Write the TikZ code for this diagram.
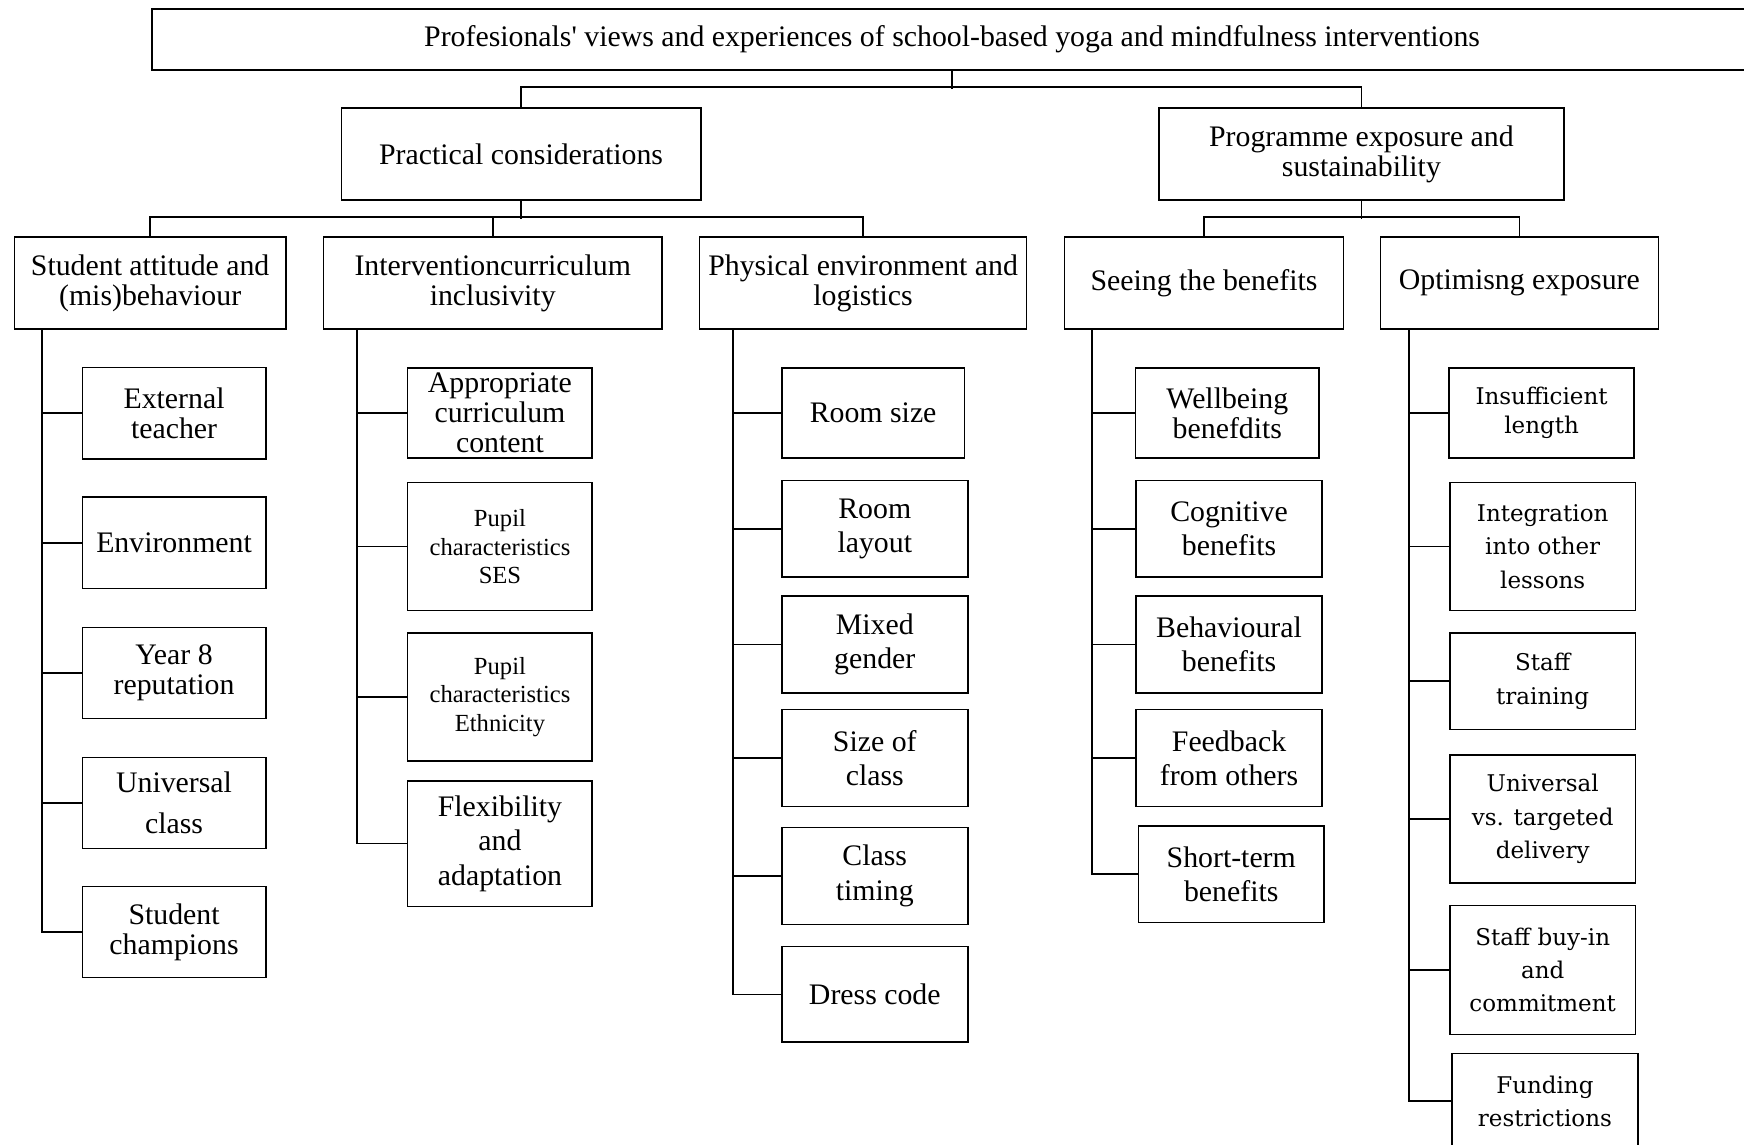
\documentclass[tikz,border=0pt]{standalone}
\usepackage{fontspec}
\setmainfont{Liberation Serif}
\newfontfamily\schoolfont{DejaVu Serif}
\tikzstyle{theme}=[draw, align=center, inner sep=1pt, font=\fontsize{14.9}{15}\selectfont]
\tikzstyle{code}=[theme, minimum width=92.9pt, minimum height=48.4pt]
\tikzstyle{loose}=[font=\fontsize{14.9}{17.2}\selectfont]
\tikzstyle{pupil}=[font=\fontsize{12.3}{14.2}\selectfont]
\tikzstyle{school}=[font=\schoolfont\fontsize{11.5}{16.7}\selectfont]

\begin{document}
\begin{tikzpicture}[x=0.556pt, y=-0.556pt, line width=0.8pt]
\clip (0,0) rectangle (1568,1029);
\node[theme, minimum width=800pt, minimum height=30.6pt] at (856, 35.5) (title) {Profesionals\textquotesingle{} views and experiences of school-based yoga and mindfulness interventions};
\node[theme, minimum width=179.6pt, minimum height=46.1pt] at (468.5, 138.5) (prac) {Practical considerations};
\node[theme, minimum width=202.4pt, minimum height=46.1pt] at (1224, 138.5) (prog) {Programme exposure and\\sustainability};
\node[theme, minimum width=135.7pt, minimum height=46.1pt] at (135, 254.5) (stud) {Student attitude and\\(mis)behaviour};
\node[theme, minimum width=169pt, minimum height=46.1pt] at (443, 254.5) (inter) {Interventioncurriculum\\inclusivity};
\node[theme, minimum width=163.5pt, minimum height=46.1pt] at (776, 254.5) (phys) {Physical environment and\\logistics};
\node[theme, minimum width=139.6pt, minimum height=46.1pt] at (1082.5, 254.5) (seeing) {Seeing the benefits};
\node[theme, minimum width=139pt, minimum height=46.1pt] at (1366, 254.5) (optim) {Optimisng exposure};

\node[code, minimum width=91.7pt, minimum height=45.6pt] at (156.5, 371.5) (ext) {External\\teacher};
\node[code, minimum width=91.7pt, minimum height=45.6pt] at (156.5, 488) (env) {Environment};
\node[code, minimum width=91.7pt, minimum height=45.6pt] at (156.5, 605) (year) {Year 8\\reputation};
\node[code, minimum width=91.7pt, minimum height=45.6pt, font=\fontsize{14.9}{20.6}\selectfont] at (156.5, 722) (univ) {Universal\\class};
\node[code, minimum width=91.7pt, minimum height=45.6pt] at (156.5, 838) (champ) {Student\\champions};

\node[code, minimum width=92.3pt, minimum height=45pt] at (449.5, 371.5) (appr) {Appropriate\\curriculum\\content};
\node[code, pupil, minimum width=92.3pt, minimum height=64pt] at (449.5, 491.5) (ses) {Pupil\\characteristics\\SES};
\node[code, pupil, minimum width=92.3pt, minimum height=64pt] at (449.5, 626.5) (eth) {Pupil\\characteristics\\Ethnicity};
\node[code, loose, minimum width=92.3pt, minimum height=62.8pt] at (449.5, 758.5) (flex) {Flexibility\\and\\adaptation};

\node[code, minimum width=91.2pt, minimum height=45pt] at (785, 371.5) (room) {Room size};
\node[code, loose] at (786.5, 475.5) (layout) {Room\\layout};
\node[code, loose] at (786.5, 579.5) (mixed) {Mixed\\gender};
\node[code, loose] at (786.5, 681.5) (sizec) {Size of\\class};
\node[code, loose] at (786.5, 787.5) (timing) {Class\\timing};
\node[code, minimum height=47.8pt] at (786.5, 894) (dress) {Dress code};

\node[code, minimum width=91.7pt, minimum height=45pt] at (1103.5, 371.5) (well) {Wellbeing\\benefdits};
\node[code, loose] at (1105, 475.5) (cogn) {Cognitive\\benefits};
\node[code, loose] at (1105, 579.5) (behav) {Behavioural\\benefits};
\node[code, loose] at (1105, 681.5) (feed) {Feedback\\from others};
\node[code, loose] at (1107, 786) (short) {Short-term\\benefits};

\node[code, school, minimum width=92.3pt, minimum height=45pt, font=\schoolfont\fontsize{11.5}{14.5}\selectfont] at (1386, 371.5) (insuf) {Insufficient\\length};
\node[code, school, minimum height=64pt] at (1387, 491.5) (integ) {Integration\\into other\\lessons};
\node[code, school] at (1387, 612.5) (train) {Staff\\training};
\node[code, school, minimum height=64pt] at (1387, 736.5) (targ) {Universal\\vs. targeted\\delivery};
\node[code, school, minimum height=64.5pt] at (1387, 872) (buyin) {Staff buy-in\\and\\commitment};
\node[code, school, minimum height=47.8pt] at (1389, 990) (fund) {Funding\\restrictions};

\draw (title.south) -- ++(0, 16);
\draw (prac.north) -- ++(0, -18) -| (prog.north);
\draw (prac.south) -- ++(0, 16);
\draw (stud.north) -- ++(0, -17) -| (phys.north);
\draw (inter.north) -- ++(0, -17);
\draw (prog.south) -- ++(0, 16);
\draw (seeing.north) -- ++(0, -17) -| (optim.north);

\draw (stud.south -| 38,0) |- (champ.west);
\draw (ext.west) -- (ext.west -| 38,0);
\draw (env.west) -- (env.west -| 38,0);
\draw (year.west) -- (year.west -| 38,0);
\draw (univ.west) -- (univ.west -| 38,0);

\draw (inter.south -| 321,0) |- (flex.west);
\draw (appr.west) -- (appr.west -| 321,0);
\draw (ses.west) -- (ses.west -| 321,0);
\draw (eth.west) -- (eth.west -| 321,0);

\draw (phys.south -| 659,0) |- (dress.west);
\draw (room.west) -- (room.west -| 659,0);
\draw (layout.west) -- (layout.west -| 659,0);
\draw (mixed.west) -- (mixed.west -| 659,0);
\draw (sizec.west) -- (sizec.west -| 659,0);
\draw (timing.west) -- (timing.west -| 659,0);

\draw (seeing.south -| 982,0) |- (short.west);
\draw (well.west) -- (well.west -| 982,0);
\draw (cogn.west) -- (cogn.west -| 982,0);
\draw (behav.west) -- (behav.west -| 982,0);
\draw (feed.west) -- (feed.west -| 982,0);

\draw (optim.south -| 1267,0) |- (fund.west);
\draw (insuf.west) -- (insuf.west -| 1267,0);
\draw (integ.west) -- (integ.west -| 1267,0);
\draw (train.west) -- (train.west -| 1267,0);
\draw (targ.west) -- (targ.west -| 1267,0);
\draw (buyin.west) -- (buyin.west -| 1267,0);
\end{tikzpicture}
\end{document}
